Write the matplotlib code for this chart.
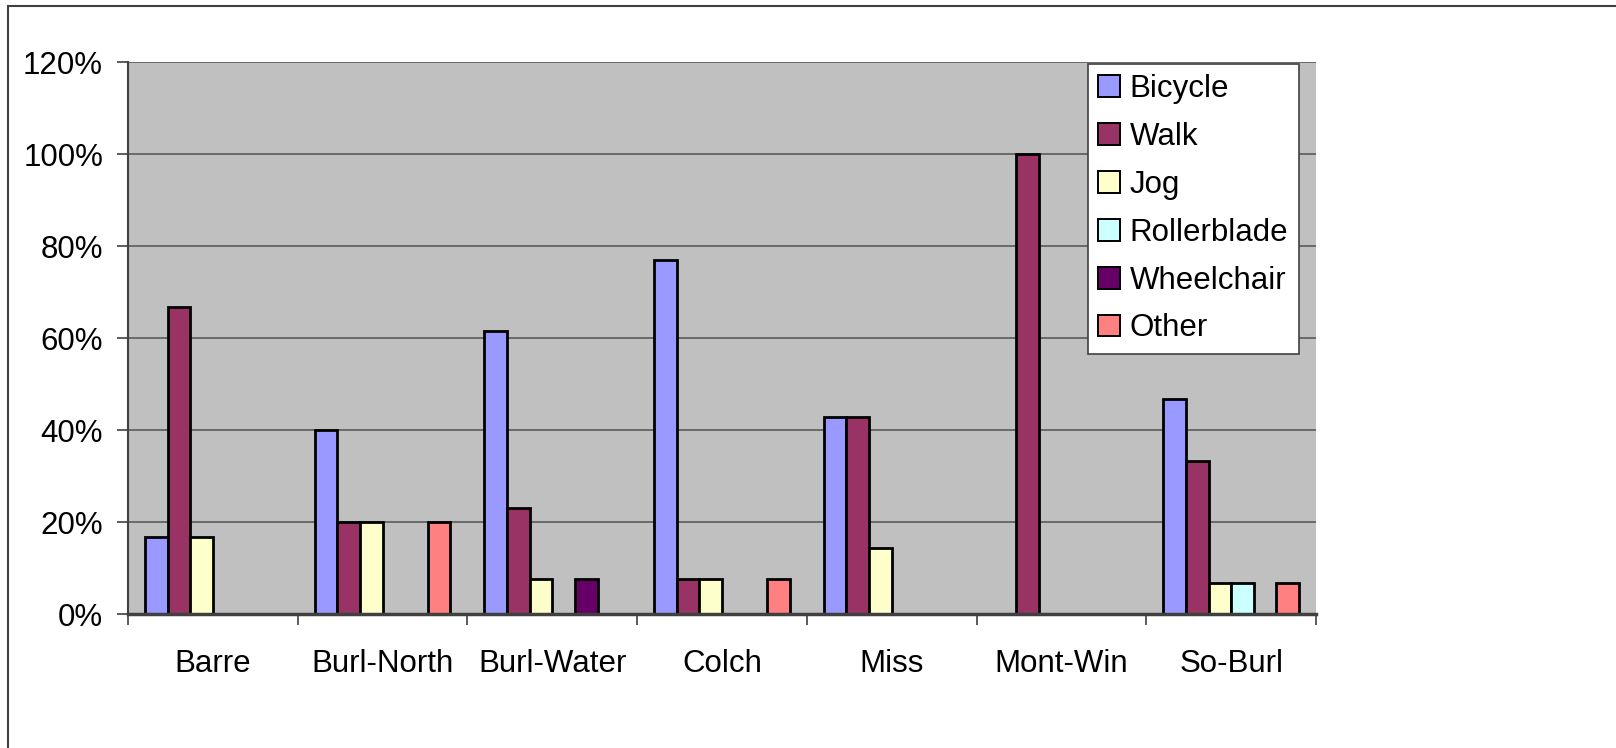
import numpy as np
import matplotlib
matplotlib.use("Agg")
import matplotlib.pyplot as plt
from matplotlib.patches import Rectangle, Patch
from matplotlib.ticker import PercentFormatter, FixedLocator

plt.rcParams['font.family'] = ['Liberation Sans', 'DejaVu Sans']

# share of trips by mode at each site (fractions)
sites = ['Barre', 'Burl-North', 'Burl-Water', 'Colch', 'Miss', 'Mont-Win', 'So-Burl']
modes = ['Bicycle', 'Walk', 'Jog', 'Rollerblade', 'Wheelchair', 'Other']
bicycle = [0.167, 0.40, 0.615, 0.769, 0.429, 0.0, 0.467]
walk = [0.667, 0.20, 0.231, 0.077, 0.429, 1.00, 0.333]
jog = [0.167, 0.20, 0.077, 0.077, 0.143, 0.0, 0.067]
rollerblade = [0.0, 0.0, 0.0, 0.0, 0.0, 0.0, 0.067]
wheelchair = [0.0, 0.0, 0.077, 0.0, 0.0, 0.0, 0.0]
other = [0.0, 0.20, 0.0, 0.077, 0.0, 0.0, 0.067]
colors = ['#9999FF', '#993366', '#FFFFCC', '#CCFFFF', '#660066', '#FF8080']

series = [bicycle, walk, jog, rollerblade, wheelchair, other]

fig = plt.figure(figsize=(16.16, 7.48), dpi=100)
ax = fig.add_axes([128 / 1616, 1 - 614 / 748, (1316 - 128) / 1616, (614 - 62) / 748])
ax.set_facecolor('#C0C0C0')

x = np.arange(len(sites))
w = 1 / 7.5
for j, (vals, col) in enumerate(zip(series, colors)):
    vals = np.array(vals)
    keep = vals > 0
    ax.bar(x[keep] + (j - 2.5) * w, vals[keep], width=w, color=col,
           edgecolor='black', linewidth=2.0, zorder=3)

ax.set_xlim(-0.5, len(sites) - 0.5)
ax.set_ylim(0, 1.2)
ax.set_yticks(np.arange(0, 1.21, 0.2))
ax.yaxis.set_major_formatter(PercentFormatter(1.0, decimals=0))
ax.grid(axis='y', color='#5a5a5a', linewidth=1.2, zorder=1)
ax.set_axisbelow(True)

ax.set_xticks(x)
ax.set_xticklabels(sites)
ax.xaxis.set_minor_locator(FixedLocator(np.arange(-0.5, len(sites), 1.0)))
ax.tick_params(axis='x', which='major', length=0, pad=25, labelsize=22.5)
ax.tick_params(axis='x', which='minor', length=8, width=1.2, color='#404040')
ax.tick_params(axis='y', length=8, width=1.2, color='#404040', pad=10, labelsize=22.5)

for s in ['top', 'right']:
    ax.spines[s].set_visible(False)
ax.spines['left'].set_color('#404040')
ax.spines['left'].set_linewidth(1.5)
ax.spines['bottom'].set_color('#404040')
ax.spines['bottom'].set_linewidth(2.5)
ax.spines['bottom'].set_zorder(4)

handles = [Patch(facecolor=c, edgecolor='black', linewidth=1.4) for c in colors]
leg = fig.legend(handles, modes, loc='upper left',
                 bbox_to_anchor=(1088 / 1616, 1 - 64 / 748),
                 bbox_transform=fig.transFigure, borderaxespad=0,
                 fontsize=22.5, handlelength=0.7, handleheight=0.7,
                 handletextpad=0.3, labelspacing=0.57, borderpad=0.33,
                 fancybox=False, framealpha=1, edgecolor='#404040')
leg.get_frame().set_linewidth(1.2)

# outer chart border
fig.patches.append(Rectangle((8 / 1616, -0.1), 1.2, 1.1 - 6 / 748, transform=fig.transFigure,
                             fill=False, edgecolor='#404040', linewidth=1.5))

fig.savefig('out.png', dpi=100)
